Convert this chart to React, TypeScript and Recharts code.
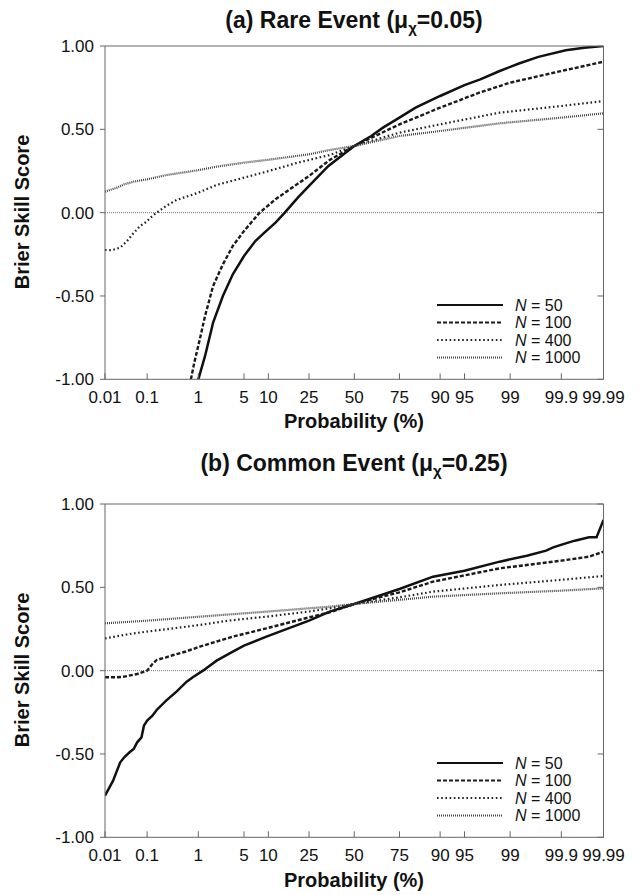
import React from 'react';
import { LineChart, Line, XAxis, YAxis, ReferenceLine } from 'recharts';

// probability (%) tick labels on the normal-probability axis
const TICK_LABELS = ['0.01', '0.1', '1', '5', '10', '25', '50', '75', '90', '95', '99', '99.9', '99.99'];
const Y_TICKS = [-1, -0.5, 0, 0.5, 1];
const SERIES_NAMES = ['50', '100', '400', '1000'];

// (a) rare event: [probability %, Brier skill score]
const rareN50 = [
  [1, -1.0], [1.3, -0.86], [1.76, -0.66], [2.5, -0.5], [3.5, -0.37], [5, -0.26], [7, -0.17],
  [9, -0.12], [12, -0.06], [15, 0.0], [20, 0.09], [25, 0.16], [35, 0.28], [50, 0.4], [60, 0.46],
  [66.6, 0.51], [75, 0.57], [82, 0.63], [90, 0.7], [95, 0.765], [97, 0.8], [98.5, 0.85],
  [99.3, 0.895], [99.7, 0.935], [99.92, 0.975], [99.97, 0.99], [99.99, 1.0],
];
const rareN100 = [
  [0.74, -1.0], [0.85, -0.9], [1.06, -0.76], [1.3, -0.62], [1.76, -0.44], [2.5, -0.31],
  [3.5, -0.2], [5, -0.11], [7.9, 0.0], [12, 0.08], [16.8, 0.14], [25, 0.22], [35.7, 0.316],
  [50, 0.4], [75, 0.53], [90, 0.63], [96.9, 0.72], [99, 0.78], [99.6, 0.81], [99.9, 0.85],
  [99.97, 0.88], [99.99, 0.906],
];
const rareN400 = [
  [0.01, -0.224], [0.015, -0.225], [0.024, -0.21], [0.035, -0.17], [0.049, -0.124], [0.07, -0.08],
  [0.097, -0.054], [0.13, -0.02], [0.16, 0.0], [0.25, 0.04], [0.4, 0.076], [1, 0.12], [2, 0.166],
  [5, 0.21], [9.5, 0.246], [20, 0.3], [35.7, 0.346], [50, 0.4], [75, 0.48], [90, 0.53],
  [98.5, 0.6], [99.9, 0.64], [99.99, 0.67],
];
const rareN1000 = [
  [0.01, 0.126], [0.02, 0.15], [0.03, 0.17], [0.05, 0.186], [0.1, 0.2], [0.26, 0.226], [1, 0.255],
  [2, 0.276], [5, 0.3], [9.5, 0.316], [25, 0.35], [35.7, 0.376], [50, 0.4], [75, 0.46],
  [90, 0.49], [98.5, 0.536], [99.9, 0.57], [99.99, 0.596],
];

// (b) common event
const commonN50 = [
  [0.01, -0.75], [0.013, -0.7], [0.016, -0.66], [0.02, -0.6], [0.024, -0.55], [0.03, -0.52],
  [0.04, -0.49], [0.05, -0.47], [0.06, -0.43], [0.075, -0.4], [0.085, -0.33], [0.1, -0.3],
  [0.13, -0.27], [0.16, -0.236], [0.25, -0.18], [0.4, -0.126], [0.62, -0.066], [0.8, -0.04],
  [1.2, 0.0], [2, 0.06], [3.5, 0.114], [5, 0.15], [9.5, 0.204], [25, 0.3], [35.7, 0.354],
  [50, 0.4], [75, 0.49], [88, 0.564], [95, 0.6], [98.5, 0.654], [99.5, 0.69], [99.79, 0.72],
  [99.85, 0.74], [99.92, 0.764], [99.95, 0.78], [99.977, 0.8], [99.985, 0.8], [99.99, 0.904],
];
const commonN100 = [
  [0.01, -0.04], [0.02, -0.04], [0.03, -0.036], [0.06, -0.02], [0.1, 0.0], [0.13, 0.04],
  [0.16, 0.064], [0.25, 0.08], [0.35, 0.094], [0.6, 0.115], [1.06, 0.144], [2, 0.175],
  [3.5, 0.204], [9.5, 0.254], [25, 0.32], [35.7, 0.35], [50, 0.4], [75, 0.47], [88, 0.534],
  [98.5, 0.614], [99.9, 0.66], [99.977, 0.684], [99.99, 0.714],
];
const commonN400 = [
  [0.01, 0.194], [0.05, 0.224], [0.2, 0.245], [1.06, 0.274], [3, 0.3], [9.5, 0.324], [25, 0.355],
  [35.7, 0.374], [50, 0.4], [75, 0.44], [88, 0.474], [98.5, 0.514], [99.9, 0.545], [99.99, 0.568],
];
const commonN1000 = [
  [0.01, 0.284], [0.1, 0.3], [1.06, 0.324], [9.5, 0.354], [35.7, 0.384], [50, 0.4], [75, 0.425],
  [88, 0.444], [98.5, 0.464], [99.9, 0.48], [99.99, 0.494],
];

const STYLES = [
  { stroke: '#111', dash: undefined, width: 2.5 },
  { stroke: '#1a1a1a', dash: '4 2', width: 2.4 },
  { stroke: '#222', dash: '1.6 2.6', width: 2.2 },
  { stroke: '#444', dash: '1 1', width: 2.2 },
];

// inverse normal CDF (Acklam) -> probit axis
function probit(p: number) {
  const a = [-39.69683028665376, 220.9460984245205, -275.9285104469687, 138.357751867269, -30.66479806614716, 2.506628277459239];
  const b = [-54.47609879822406, 161.5858368580409, -155.6989798598866, 66.80131188771972, -13.28068155288572];
  const c = [-0.007784894002430293, -0.3223964580411365, -2.400758277161838, -2.549732953756187, 4.374664141464968, 2.938163982698783];
  const d = [0.007784695709041462, 0.3224671290700398, 2.445134137142996, 3.754408661907416];
  const plow = 0.02425;
  if (p < plow) {
    const q = Math.sqrt(-2 * Math.log(p));
    return (((((c[0] * q + c[1]) * q + c[2]) * q + c[3]) * q + c[4]) * q + c[5]) / ((((d[0] * q + d[1]) * q + d[2]) * q + d[3]) * q + 1);
  }
  if (p <= 1 - plow) {
    const q = p - 0.5;
    const r = q * q;
    return (((((a[0] * r + a[1]) * r + a[2]) * r + a[3]) * r + a[4]) * r + a[5]) * q / (((((b[0] * r + b[1]) * r + b[2]) * r + b[3]) * r + b[4]) * r + 1);
  }
  const q = Math.sqrt(-2 * Math.log(1 - p));
  return -(((((c[0] * q + c[1]) * q + c[2]) * q + c[3]) * q + c[4]) * q + c[5]) / ((((d[0] * q + d[1]) * q + d[2]) * q + d[3]) * q + 1);
}

const X_TICKS = TICK_LABELS.map((t) => probit(parseFloat(t) / 100));
const X_DOMAIN = [X_TICKS[0], X_TICKS[X_TICKS.length - 1]];
const toPoints = (arr: number[][]) => arr.map(([p, v]) => ({ z: probit(p / 100), v }));

const FONT = '"Liberation Sans", Arial, Helvetica, sans-serif';
const AXIS = '#666';

const BottomTick = (props: any) => {
  const { x, y, index } = props;
  return (
    <g>
      <line x1={x} x2={x} y1={y} y2={y - 6} stroke={AXIS} strokeWidth={1} />
      <text x={x} y={y + 24} textAnchor="middle" fontSize={17} fill="#111" fontFamily={FONT}>
        {TICK_LABELS[index]}
      </text>
    </g>
  );
};
const TopTick = (props: any) => (
  <line x1={props.x} x2={props.x} y1={props.y} y2={props.y + 6} stroke={AXIS} strokeWidth={1} />
);
const RightTick = (props: any) => (
  <line x1={props.x} x2={props.x - 6} y1={props.y} y2={props.y} stroke={AXIS} strokeWidth={1} />
);

const W = 639;
const H = 437;
const PLOT_BOTTOM = 379.3;

function Panel({ top, title, sub, series, titleY, xLabelY }: any) {
  return (
    <div style={{ position: 'absolute', left: 0, top, width: W, height: H, fontFamily: FONT }}>
      <div style={{ position: 'absolute', left: 105, width: 498, top: titleY - 14, textAlign: 'center', fontSize: 23, fontWeight: 'bold', lineHeight: '28px', color: '#111' }}>
        {title} (μ<sub style={{ fontSize: 15, verticalAlign: -5, lineHeight: 0 }}>χ</sub>={sub})
      </div>
      <div style={{ position: 'absolute', left: 22 - 100, top: 212 - 12, width: 200, height: 24, textAlign: 'center', transform: 'rotate(-90deg)', fontSize: 20, fontWeight: 'bold', lineHeight: '24px', color: '#111' }}>
        Brier Skill Score
      </div>
      <div style={{ position: 'absolute', left: 105, width: 498, top: xLabelY - 10.5, textAlign: 'center', fontSize: 20, fontWeight: 'bold', lineHeight: '21px', color: '#111' }}>
        Probability (%)
      </div>
      <LineChart width={W} height={H} margin={{ top: 45, right: 34.5, left: 45, bottom: H - PLOT_BOTTOM - 30 }}>
        <XAxis dataKey="z" type="number" domain={X_DOMAIN} ticks={X_TICKS} interval={0} height={30}
          tickSize={0} tickMargin={0} allowDataOverflow stroke={AXIS} tick={<BottomTick />} />
        <XAxis xAxisId="top" orientation="top" type="number" domain={X_DOMAIN} ticks={X_TICKS} interval={0}
          height={1} tickSize={0} tickMargin={0} allowDataOverflow stroke={AXIS} tick={<TopTick />} />
        <YAxis type="number" domain={[-1, 1]} ticks={Y_TICKS} interval={0} width={60} tickSize={5} tickMargin={6}
          allowDataOverflow stroke={AXIS} tickFormatter={(v: number) => v.toFixed(2)}
          tick={{ fill: '#111', fontSize: 17, fontFamily: FONT }} />
        <YAxis yAxisId="right" orientation="right" type="number" domain={[-1, 1]} ticks={Y_TICKS} interval={0}
          width={1} tickSize={0} tickMargin={0} allowDataOverflow stroke={AXIS} tick={<RightTick />} />
        <ReferenceLine y={0} stroke="#777" strokeDasharray="1 1" strokeWidth={1} />
        {series.map((s: number[][], i: number) => (
          <Line key={i} data={toPoints(s)} dataKey="v" type="linear" stroke={STYLES[i].stroke}
            strokeWidth={STYLES[i].width} strokeDasharray={STYLES[i].dash} dot={false} activeDot={false}
            isAnimationActive={false} />
        ))}
      </LineChart>
      <svg style={{ position: 'absolute', left: 430, top: 292 }} width={170} height={76}>
        {SERIES_NAMES.map((n, i) => (
          <g key={n} transform={`translate(0, ${13 + i * 17.5})`}>
            <line x1={7} x2={73} y1={0} y2={0} stroke={STYLES[i].stroke} strokeWidth={i === 0 ? 2 : 1.8}
              strokeDasharray={STYLES[i].dash} />
            <text x={85} y={5.5} fontSize={16} fill="#111" fontFamily={FONT}>
              <tspan fontStyle="italic">N</tspan> = {n}
            </text>
          </g>
        ))}
      </svg>
    </div>
  );
}

export default function App() {
  return (
    <div style={{ position: 'absolute', left: 0, top: 0, width: W, height: 895, background: '#fff' }}>
      <Panel top={0} title="(a) Rare Event" sub="0.05" titleY={20} xLabelY={421}
        series={[rareN50, rareN100, rareN400, rareN1000]} />
      <Panel top={458} title="(b) Common Event" sub="0.25" titleY={5} xLabelY={422}
        series={[commonN50, commonN100, commonN400, commonN1000]} />
    </div>
  );
}
